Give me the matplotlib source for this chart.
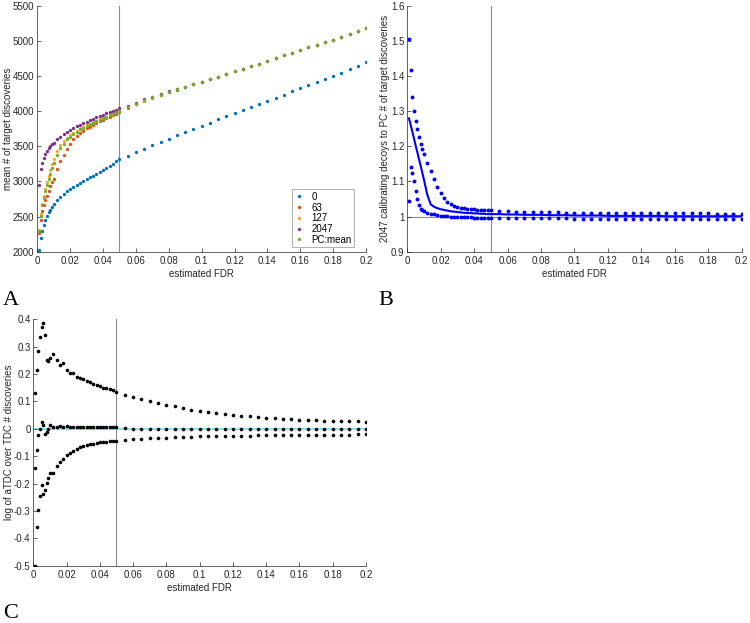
import numpy as np
import matplotlib
matplotlib.use("Agg")
import matplotlib.pyplot as plt
from matplotlib.ticker import FuncFormatter

plt.rcParams['font.family'] = ['Liberation Sans', 'DejaVu Sans']
plt.rcParams['axes.unicode_minus'] = False

# estimated FDR grid: fine steps near zero, coarser later
fdr = np.concatenate([np.arange(1, 11) * 0.001,
                      np.arange(6, 26) * 0.002,
                      np.arange(11, 41) * 0.005])

# --- panel A: mean # of target discoveries ---
disc_0 = [2020, 2195, 2300, 2385, 2455, 2510, 2560, 2600, 2640, 2675,
          2730, 2780, 2820, 2858, 2890, 2920, 2948, 2975, 3003, 3030,
          3057, 3083, 3110, 3140, 3170, 3198, 3225, 3255, 3285, 3315,
          3365, 3415, 3465, 3515, 3565, 3612, 3660, 3705, 3750, 3795,
          3840, 3885, 3930, 3975, 4020, 4063, 4105, 4148, 4192, 4237,
          4282, 4325, 4370, 4412, 4455, 4500, 4550, 4600, 4650, 4700]
disc_63 = [2260, 2450, 2580, 2670, 2730, 2790, 2860, 2930, 2990, 3030,
           3180, 3290, 3380, 3460, 3540, 3600, 3650, 3690, 3725, 3755,
           3782, 3808, 3832, 3855, 3878, 3900, 3922, 3944, 3966, 3990,
           4050, 4100, 4148, 4190, 4232, 4272, 4310, 4346, 4382, 4418,
           4458, 4494, 4530, 4570, 4605, 4645, 4680, 4720, 4760, 4795,
           4835, 4870, 4910, 4945, 4985, 5020, 5060, 5100, 5140, 5180]
disc_127 = [2310, 2540, 2680, 2800, 2900, 2990, 3080, 3170, 3250, 3320,
            3440, 3520, 3580, 3625, 3660, 3695, 3725, 3752, 3778, 3800,
            3822, 3845, 3865, 3885, 3905, 3925, 3945, 3965, 3985, 4000,
            4055, 4105, 4152, 4194, 4236, 4276, 4312, 4348, 4384, 4420,
            4460, 4495, 4530, 4570, 4605, 4645, 4680, 4720, 4760, 4795,
            4835, 4870, 4910, 4945, 4985, 5020, 5060, 5100, 5140, 5180]
disc_2047 = [2950, 3180, 3270, 3340, 3390, 3435, 3470, 3500, 3530, 3555,
             3600, 3640, 3675, 3705, 3735, 3760, 3785, 3810, 3830, 3850,
             3872, 3893, 3913, 3933, 3953, 3970, 3988, 4005, 4022, 4040,
             4080, 4125, 4168, 4206, 4244, 4282, 4317, 4352, 4386, 4421,
             4460, 4495, 4530, 4570, 4605, 4645, 4680, 4720, 4760, 4795,
             4835, 4870, 4910, 4945, 4985, 5020, 5060, 5100, 5140, 5180]
disc_pc = [2300, 2510, 2660, 2770, 2860, 2950, 3030, 3110, 3190, 3260,
           3380, 3470, 3540, 3600, 3640, 3680, 3712, 3742, 3768, 3792,
           3815, 3838, 3858, 3880, 3900, 3920, 3940, 3960, 3985, 4005,
           4058, 4108, 4155, 4197, 4238, 4278, 4314, 4350, 4385, 4420,
           4460, 4495, 4530, 4570, 4605, 4645, 4680, 4720, 4760, 4795,
           4835, 4870, 4910, 4945, 4985, 5020, 5060, 5100, 5140, 5180]
series_a = [("0", disc_0, "#0072BD"), ("63", disc_63, "#D95319"),
            ("127", disc_127, "#EDB120"), ("2047", disc_2047, "#7E2F8E"),
            ("PC:mean", disc_pc, "#77AC30")]

# --- panel B: ratio 2047 calibrating decoys / PC ---
ratio_hi = [1.506, 1.418, 1.342, 1.302, 1.272, 1.249, 1.228, 1.208, 1.193, 1.179,
            1.154, 1.131, 1.107, 1.085, 1.066, 1.052, 1.042, 1.035, 1.030, 1.027,
            1.025, 1.024, 1.023, 1.022, 1.021, 1.020, 1.020, 1.019, 1.019, 1.018,
            1.016, 1.015, 1.014, 1.014, 1.013, 1.013, 1.012, 1.012, 1.011, 1.011,
            1.011, 1.011, 1.010, 1.010, 1.010, 1.010, 1.010, 1.010, 1.009, 1.009,
            1.009, 1.009, 1.009, 1.009, 1.009, 1.009, 1.008, 1.008, 1.008, 1.008]
ratio_lo = [1.044, 1.142, 1.125, 1.100, 1.074, 1.049, 1.033, 1.023, 1.019, 1.016,
            1.011, 1.008, 1.006, 1.004, 1.003, 1.002, 1.001, 1.000, 1.000, 0.999,
            0.999, 0.998, 0.998, 0.998, 0.997, 0.997, 0.997, 0.997, 0.997, 0.996,
            0.996, 0.996, 0.996, 0.995, 0.995, 0.995, 0.995, 0.995, 0.995, 0.994,
            0.994, 0.994, 0.994, 0.994, 0.994, 0.994, 0.994, 0.994, 0.994, 0.994,
            0.993, 0.993, 0.993, 0.993, 0.993, 0.993, 0.993, 0.993, 0.993, 0.993]
ratio_mean = [1.280, 1.262, 1.243, 1.223, 1.203, 1.184, 1.164, 1.145, 1.125, 1.105,
              1.062, 1.035, 1.028, 1.024, 1.021, 1.019, 1.017, 1.015, 1.014, 1.013,
              1.012, 1.011, 1.010, 1.010, 1.009, 1.009, 1.008, 1.008, 1.007, 1.007,
              1.007, 1.006, 1.006, 1.005, 1.005, 1.005, 1.004, 1.004, 1.004, 1.003,
              1.003, 1.003, 1.003, 1.002, 1.002, 1.002, 1.002, 1.002, 1.002, 1.002,
              1.001, 1.001, 1.001, 1.001, 1.001, 1.001, 1.001, 1.001, 1.001, 1.001]

# --- panel C: log of aTDC over TDC ---
log_hi = [0.130, 0.213, 0.285, 0.337, 0.372, 0.386, 0.344, 0.253, 0.248, 0.260,
          0.275, 0.250, 0.232, 0.240, 0.213, 0.205, 0.205, 0.188, 0.186, 0.182,
          0.175, 0.170, 0.165, 0.160, 0.155, 0.150, 0.148, 0.145, 0.140, 0.133,
          0.125, 0.117, 0.108, 0.102, 0.095, 0.087, 0.082, 0.075, 0.070, 0.065,
          0.060, 0.057, 0.053, 0.050, 0.047, 0.045, 0.042, 0.040, 0.038, 0.036,
          0.035, 0.033, 0.032, 0.031, 0.030, 0.029, 0.029, 0.028, 0.027, 0.026]
log_mid = [-0.143, -0.076, -0.024, 0.000, 0.024, 0.014, -0.018, -0.010, 0.000, 0.013,
           0.006, 0.006, 0.012, 0.005, 0.010, 0.006, 0.006, 0.006, 0.005, 0.005,
           0.005, 0.005, 0.005, 0.005, 0.005, 0.005, 0.005, 0.005, 0.005, 0.005,
           0.004, 0.001, 0.001, 0.001, 0.001, 0.001, 0.001, 0.001, 0.001, 0.001,
           0.000, 0.000, 0.000, 0.000, 0.000, 0.000, 0.000, 0.000, 0.000, 0.000,
           0.000, 0.000, 0.000, 0.000, 0.000, 0.000, 0.000, 0.000, 0.000, 0.000]
log_lo = [-0.500, -0.360, -0.295, -0.245, -0.207, -0.238, -0.222, -0.197, -0.178, -0.163,
          -0.160, -0.135, -0.123, -0.110, -0.097, -0.088, -0.080, -0.073, -0.068, -0.064,
          -0.060, -0.057, -0.054, -0.052, -0.050, -0.048, -0.047, -0.045, -0.044, -0.043,
          -0.041, -0.038, -0.036, -0.034, -0.033, -0.032, -0.031, -0.030, -0.029, -0.028,
          -0.027, -0.027, -0.026, -0.026, -0.025, -0.025, -0.024, -0.024, -0.024, -0.023,
          -0.023, -0.023, -0.022, -0.022, -0.022, -0.021, -0.021, -0.021, -0.020, -0.020]

AX_COL = "#262626"
fmt = FuncFormatter(lambda v, p: "%g" % (round(v, 6) + 0.0))


def style(ax, ylim, yticks, ylabel, label_x):
    ax.set_xlim(0, 0.2)
    ax.set_ylim(*ylim)
    ax.set_xticks(np.arange(0, 0.2001, 0.02))
    ax.set_yticks(yticks)
    ax.xaxis.set_major_formatter(fmt)
    ax.yaxis.set_major_formatter(fmt)
    for s in ("top", "right"):
        ax.spines[s].set_visible(False)
    for s in ("left", "bottom"):
        ax.spines[s].set_color(AX_COL)
        ax.spines[s].set_linewidth(0.5)
    ax.tick_params(direction="in", length=3, width=0.5, colors=AX_COL,
                   labelsize=7, pad=3)
    ax.tick_params(axis="y", pad=2)
    ax.set_xlabel("estimated FDR", fontsize=7, color=AX_COL, labelpad=2)
    ax.set_ylabel(ylabel, fontsize=7, color=AX_COL)
    ax.yaxis.set_label_coords(label_x, 0.5)
    ax.axvline(0.05, color="#8c8c8c", lw=0.8, zorder=1)


fig = plt.figure(figsize=(7.5, 6.23), dpi=100)
ax_a = fig.add_axes([0.0497, 0.596, 0.4383, 0.3944])
ax_b = fig.add_axes([0.543, 0.596, 0.4459, 0.3944])
ax_c = fig.add_axes([0.0444, 0.092, 0.4436, 0.3955])

# A
for name, vals, col in series_a:
    ax_a.plot(fdr, vals, "o", ms=2.4, mew=0, color=col, label=name, zorder=3)
style(ax_a, (2000, 5500), np.arange(2000, 5501, 500),
      "mean # of target discoveries", -0.074)
leg = ax_a.legend(loc="lower right", fontsize=7, frameon=True, fancybox=False,
                  handlelength=1.0, handletextpad=0.7, borderpad=0.25,
                  labelspacing=0.08, borderaxespad=0.0,
                  bbox_to_anchor=(0.963, 0.018))
leg.get_frame().set_edgecolor("#8c8c8c")
leg.get_frame().set_linewidth(0.6)

# B
ax_b.axhline(1.0, color="#8c8c8c", lw=0.8, zorder=1)
ax_b.plot(fdr, ratio_hi, "o", ms=2.8, mew=0, color="#0000FF", zorder=3)
ax_b.plot(fdr, ratio_lo, "o", ms=2.8, mew=0, color="#0000FF", zorder=3)
ax_b.plot(fdr, ratio_mean, "-", lw=1.5, color="#0000FF", zorder=3)
style(ax_b, (0.9, 1.6), np.arange(0.9, 1.601, 0.1),
      "2047 calibrating decoys to PC # of target discoveries", -0.052)

# C
ax_c.axhline(0.0, color="#7fe8ec", lw=1.4, zorder=1)
for vals in (log_hi, log_mid, log_lo):
    ax_c.plot(fdr, vals, "o", ms=2.6, mew=0, color="black", zorder=3)
style(ax_c, (-0.5, 0.4), np.arange(-0.5, 0.401, 0.1),
      "log of aTDC over TDC # discoveries", -0.058)

serif = ["Liberation Serif", "DejaVu Serif"]
fig.text(3 / 750, 1 - 305 / 623, "A", family=serif, fontsize=16)
fig.text(378 / 750, 1 - 305 / 623, "B", family=serif, fontsize=16)
fig.text(3 / 750, 1 - 618 / 623, "C", family=serif, fontsize=16)

fig.savefig("out.png", dpi=100)
